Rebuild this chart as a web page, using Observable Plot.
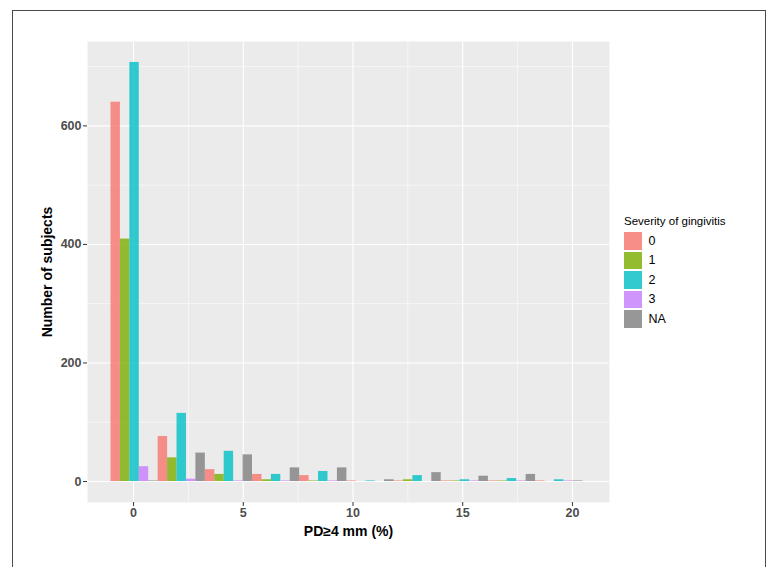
<!DOCTYPE html>
<html>
<head>
<meta charset="utf-8">
<script src="https://cdn.jsdelivr.net/npm/d3@7"></script>
<script src="https://cdn.jsdelivr.net/npm/@observablehq/plot@0.6"></script>
<style>
  html, body { margin: 0; padding: 0; background: #fff; overflow: hidden; }
  #wrap { position: relative; width: 768px; height: 567px; font-family: "Liberation Sans", Arial, sans-serif; }
  #border { position: absolute; left: 12px; top: 10px; width: 754px; height: 600px; border: 1px solid #4a4a4a; box-sizing: border-box; pointer-events: none; }
  #chart { position: absolute; left: 0; top: 0; }
  #legend { position: absolute; left: 624px; top: 215px; }
  #legend .title { font-size: 11.5px; color: #000; margin-bottom: 5px; white-space: nowrap; }
  #legend .row { display: flex; align-items: center; height: 17.5px; margin-bottom: 2px; }
  #legend .key { width: 17.5px; height: 17.5px; background: #F2F2F2; position: relative; }
  #legend .key span { position: absolute; inset: 0; }
  #legend .lab { font-size: 12.5px; color: #000; margin-left: 7px; }
  svg text { font-family: "Liberation Sans", Arial, sans-serif; }
</style>
</head>
<body>
<div id="wrap">
  <div id="chart"></div>
  <div id="legend"></div>
  <div id="border"></div>
</div>
<script>
// Histogram bins (left edges, in % units) and bin width
const binStart = [-1.03, 1.12, 3.27, 5.42, 7.57, 9.72, 11.87, 14.02, 16.17, 18.32];
const binWidth = 2.15;

// Severity groups
const groups = ["0", "1", "2", "3", "NA"];
const groupColors = ["#F8766D", "#7CAE00", "#00BFC4", "#C77CFF", "#7F7F7F"];

// Counts per bin for each severity group
const sev0  = [640, 76, 20, 12, 10, 1, 1, 1, 1, 1];
const sev1  = [409, 40, 12, 3, 1, 0, 3, 1, 1, 0];
const sev2  = [707, 115, 51, 12, 17, 1, 10, 3, 5, 3];
const sev3  = [25, 4, 1, 1, 1, 0, 0, 1, 1, 1];
const sevNA = [1, 48, 45, 23, 23, 3, 15, 9, 12, 1];

// Axis ticks
const xTicks = [0, 5, 10, 15, 20];
const xMinor = [2.5, 7.5, 12.5, 17.5];
const yTicks = [0, 200, 400, 600];
const yMinor = [100, 300, 500, 700];

const xTitle = "PD≥4 mm (%)";
const yTitle = "Number of subjects";
const legendTitle = "Severity of gingivitis";

// Build dodged bar table
const series = [sev0, sev1, sev2, sev3, sevNA];
const sub = binWidth / groups.length;
const table = [];
series.forEach((vals, g) => {
  vals.forEach((v, i) => {
    const x1 = binStart[i] + g * sub;
    table.push({group: groups[g], x1, x2: x1 + sub, count: v});
  });
});

const chart = Plot.plot({
  width: 768,
  height: 567,
  marginLeft: 87,
  marginRight: 159,
  marginTop: 41,
  marginBottom: 65,
  style: {fontFamily: "Liberation Sans, Arial, sans-serif", background: "transparent"},
  x: {domain: [-2.10, 21.69]},
  y: {domain: [-35.35, 742.35]},
  color: {domain: groups, range: groupColors},
  marks: [
    Plot.frame({fill: "#EBEBEB", stroke: null}),
    Plot.ruleX(xMinor, {stroke: "#fff", strokeWidth: 0.55}),
    Plot.ruleY(yMinor, {stroke: "#fff", strokeWidth: 0.55}),
    Plot.ruleX(xTicks, {stroke: "#fff", strokeWidth: 1.1}),
    Plot.ruleY(yTicks, {stroke: "#fff", strokeWidth: 1.1}),
    Plot.rectY(table, {x1: "x1", x2: "x2", y: "count", fill: "group", fillOpacity: 0.8}),
    Plot.axisX({ticks: xTicks, tickSize: 4, tickPadding: 2, fontSize: 12.5, fontWeight: "bold", color: "#4D4D4D", stroke: "#333", label: null}),
    Plot.axisY({ticks: yTicks, tickSize: 4, tickPadding: 2, fontSize: 12.5, fontWeight: "bold", color: "#4D4D4D", stroke: "#333", label: null}),
    Plot.text([xTitle], {text: d => d, frameAnchor: "bottom", lineAnchor: "middle", textAnchor: "middle", dy: 29, fontSize: 14, fontWeight: "bold", fill: "#000"}),
    Plot.text([yTitle], {text: d => d, frameAnchor: "left", textAnchor: "middle", lineAnchor: "middle", dx: -40, rotate: -90, fontSize: 14, fontWeight: "bold", fill: "#000"})
  ]
});
document.getElementById("chart").appendChild(chart);

// Legend
const leg = document.getElementById("legend");
const t = document.createElement("div");
t.className = "title";
t.textContent = legendTitle;
leg.appendChild(t);
groups.forEach((g, i) => {
  const row = document.createElement("div");
  row.className = "row";
  const key = document.createElement("div");
  key.className = "key";
  const sw = document.createElement("span");
  sw.style.background = groupColors[i];
  sw.style.opacity = 0.8;
  key.appendChild(sw);
  const lab = document.createElement("div");
  lab.className = "lab";
  lab.textContent = g;
  row.appendChild(key);
  row.appendChild(lab);
  leg.appendChild(row);
});
</script>
</body>
</html>
